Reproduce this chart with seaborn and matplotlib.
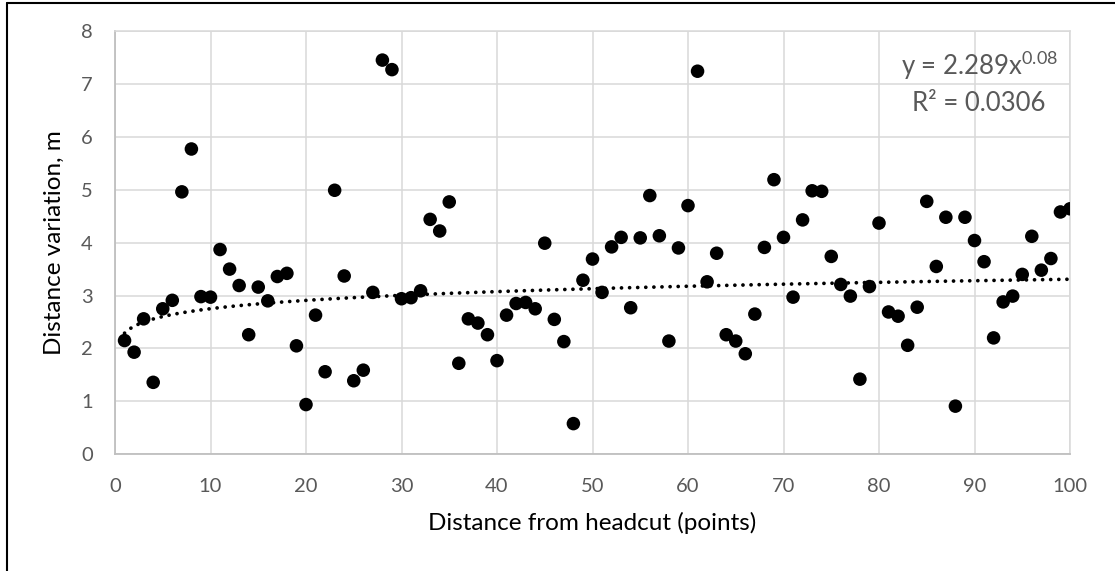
import numpy as np
import pandas as pd
import matplotlib
matplotlib.use("Agg")
import matplotlib.pyplot as plt
from matplotlib.lines import Line2D
import seaborn as sns

# Point index along the channel and measured distance variation (m)
points = list(range(1, 101))
variation = [
    2.15, 1.93, 2.56, 1.36, 2.75, 2.91, 4.96, 5.77, 2.98, 2.97,
    3.87, 3.50, 3.19, 2.26, 3.16, 2.90, 3.36, 3.42, 2.05, 0.94,
    2.63, 1.56, 4.99, 3.37, 1.39, 1.59, 3.06, 7.45, 7.27, 2.94,
    2.96, 3.09, 4.44, 4.22, 4.77, 1.72, 2.56, 2.48, 2.26, 1.77,
    2.63, 2.85, 2.87, 2.75, 3.99, 2.55, 2.13, 0.58, 3.29, 3.69,
    3.06, 3.92, 4.10, 2.77, 4.09, 4.89, 4.13, 2.14, 3.90, 4.70,
    7.24, 3.26, 3.80, 2.26, 2.14, 1.90, 2.65, 3.91, 5.19, 4.10,
    2.97, 4.43, 4.98, 4.97, 3.74, 3.21, 2.99, 1.42, 3.17, 4.37,
    2.69, 2.61, 2.06, 2.78, 4.78, 3.55, 4.48, 0.91, 4.48, 4.04,
    3.64, 2.20, 2.88, 2.99, 3.40, 4.12, 3.48, 3.70, 4.58, 4.64,
]

# Power trendline y = a * x^b and its goodness of fit
trend_a = 2.289
trend_b = 0.08
trend_r2 = 0.0306

x_ticks = [0, 10, 20, 30, 40, 50, 60, 70, 80, 90, 100]
y_ticks = [0, 1, 2, 3, 4, 5, 6, 7, 8]

df = pd.DataFrame({"point": points, "variation": variation})
trend_x = np.linspace(1, 100, 300)
trend_df = pd.DataFrame({"point": trend_x, "fit": trend_a * trend_x ** trend_b})

sns.set_theme(style="white")
plt.rcParams["font.family"] = ["Lato", "DejaVu Sans"]
plt.rcParams["mathtext.fontset"] = "custom"
plt.rcParams["mathtext.rm"] = "Lato"

fig = plt.figure(figsize=(11.15, 5.71), dpi=100)
ax = fig.add_axes([115 / 1115, 116.7 / 571, 955 / 1115, 423.3 / 571])

grid_c = "#d9d9d9"
axis_c = "#bfbfbf"
tick_c = "#595959"

sns.lineplot(data=trend_df, x="point", y="fit", ax=ax, color="black",
             linewidth=2.7, linestyle=(0, (0.01, 2.15)),
             dash_capstyle="round", zorder=2)
sns.scatterplot(data=df, x="point", y="variation", ax=ax, s=95,
                color="black", edgecolor="none", zorder=3)

ax.set_xlim(0, 100)
ax.set_ylim(0, 8)
ax.set_xticks(x_ticks)
ax.set_yticks(y_ticks)
ax.grid(True, color=grid_c, linewidth=1.1, zorder=0)
ax.set_axisbelow(True)
for side in ("top", "right"):
    ax.spines[side].set_color(grid_c)
    ax.spines[side].set_linewidth(1.1)
for side in ("left", "bottom"):
    ax.spines[side].set_color(axis_c)
    ax.spines[side].set_linewidth(1.3)

ax.tick_params(axis="both", length=0, labelsize=14.5, colors=tick_c)
ax.tick_params(axis="x", pad=17)
ax.tick_params(axis="y", pad=16)

ax.set_xlabel("Distance from headcut (points)", fontsize=17.5, color="black",
              labelpad=12)
ax.set_ylabel("Distance variation, m", fontsize=17.5, color="black",
              labelpad=12)

ax.text(0.9047, 0.896,
        f"y = {trend_a}x$^{{\\mathregular{{{trend_b:g}}}}}$",
        transform=ax.transAxes, ha="center", va="baseline",
        fontsize=18.5, color=tick_c)
ax.text(0.9047, 0.8117, f"R² = {trend_r2}",
        transform=ax.transAxes, ha="center", va="baseline",
        fontsize=18.5, color=tick_c)

# Chart-area frame along the left and top edges
fig.add_artist(Line2D([6.7 / 1115, 6.7 / 1115], [0, 1 - 2.7 / 571],
                      transform=fig.transFigure, color="black", linewidth=1.5))
fig.add_artist(Line2D([6.7 / 1115, 1], [1 - 2.7 / 571, 1 - 2.7 / 571],
                      transform=fig.transFigure, color="black", linewidth=1.5))

fig.savefig("out.png", dpi=100, facecolor="white")
